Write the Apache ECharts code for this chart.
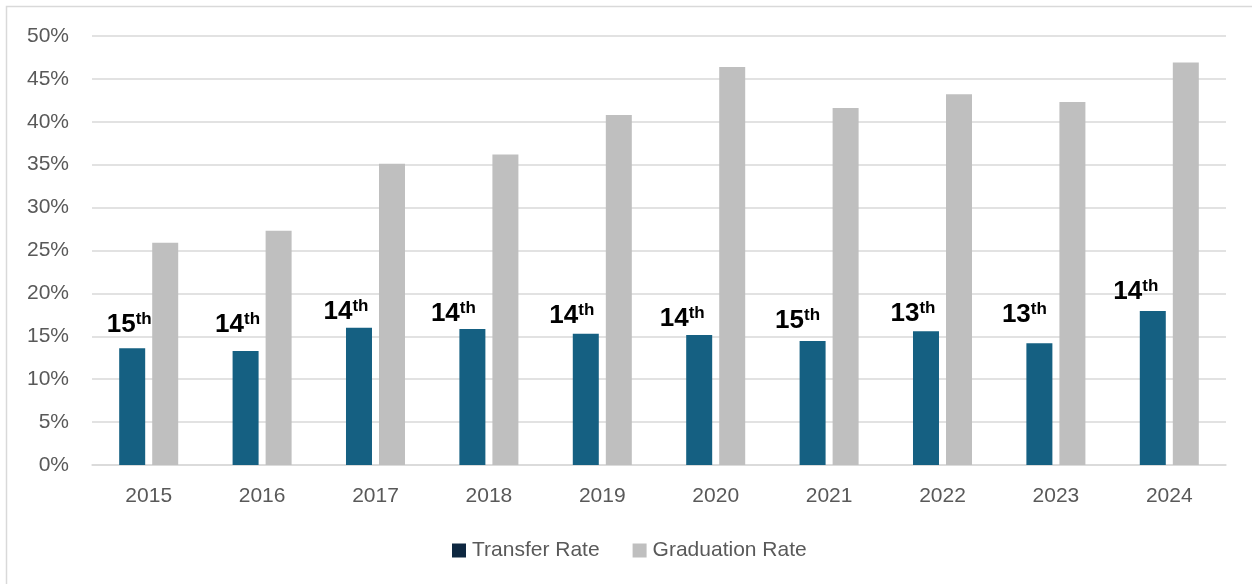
<!DOCTYPE html>
<html>
<head>
<meta charset="utf-8">
<script src="https://cdn.jsdelivr.net/npm/echarts@6/dist/echarts.min.js"></script>
<style>
html,body{margin:0;padding:0;background:#fff;}
#chart{width:1252px;height:584px;}
</style>
</head>
<body>
<div id="chart"></div>
<script>
const years = ['2015','2016','2017','2018','2019','2020','2021','2022','2023','2024'];
const transferRate = [13.6, 13.3, 16.0, 15.85, 15.3, 15.15, 14.45, 15.6, 14.2, 17.95];
const graduationRate = [25.9, 27.3, 35.1, 36.2, 40.8, 46.4, 41.6, 43.2, 42.3, 46.9];
const ranks = ['15', '14', '14', '14', '14', '14', '15', '13', '13', '14'];
const yTicks = [0, 5, 10, 15, 20, 25, 30, 35, 40, 45, 50];
// manual nudges of the rank labels (the original places them by hand)
const labelNudge = [[-3, 14], [-8, 17], [-13, 7], [-19, 6], [-14, 9], [-17, 7], [-15, 11], [-13, 8], [-15, 19], [-17, 10]];

const chart = echarts.init(document.getElementById('chart'));
const font = '"Liberation Sans", Arial, sans-serif';
const baseK = 5;
chart.setOption({
  animation: false,
  textStyle: { fontFamily: font },
  graphic: [{
    type: 'rect', silent: true,
    shape: { x: 6.5, y: 6.5, width: 1260, height: 600 },
    style: { fill: 'none', stroke: '#d9d9d9', lineWidth: 1.5 }
  }],
  grid: { left: 92, right: 26, top: 36, bottom: 119 },
  legend: {
    top: 535, left: 447,
    itemWidth: 14, itemHeight: 14, itemGap: 33,
    icon: 'rect',
    textStyle: { fontSize: 21, color: '#595959', fontFamily: font, padding: [0, 0, 0, 1] },
    data: [
      { name: 'Transfer Rate', itemStyle: { color: '#0e2841' } },
      { name: 'Graduation Rate', itemStyle: { color: '#bfbfbf' } }
    ]
  },
  xAxis: {
    type: 'category', data: years,
    axisLine: { lineStyle: { color: '#d9d9d9', width: 1.5 } },
    axisTick: { show: false },
    axisLabel: { fontSize: 21, color: '#595959', margin: 21, fontFamily: font }
  },
  yAxis: {
    type: 'value', min: yTicks[0], max: yTicks[yTicks.length - 1], interval: 5,
    axisLine: { show: false }, axisTick: { show: false },
    splitLine: { lineStyle: { color: '#d9d9d9', width: 1.5 } },
    axisLabel: { fontSize: 21, color: '#595959', margin: 23, formatter: v => v + '%', fontFamily: font }
  },
  series: [
    {
      name: 'Transfer Rate', type: 'bar',
      data: transferRate.map((v, i) => ({
        value: v,
        label: { offset: [labelNudge[i][0], -(labelNudge[i][1] - baseK)] }
      })),
      barWidth: 26, barGap: '27%',
      itemStyle: { color: '#156082' },
      label: {
        show: true, position: 'top', distance: 0,
        formatter: p => '{a|' + ranks[p.dataIndex] + '}{b|th}',
        rich: {
          a: { fontSize: 26, fontWeight: 'bold', color: '#000', fontFamily: font, lineHeight: 28 },
          b: { fontSize: 17, fontWeight: 'bold', color: '#000', fontFamily: font, lineHeight: 14, verticalAlign: 'top' }
        }
      }
    },
    {
      name: 'Graduation Rate', type: 'bar', data: graduationRate,
      barWidth: 26,
      itemStyle: { color: '#bfbfbf' }
    }
  ]
});
</script>
</body>
</html>
